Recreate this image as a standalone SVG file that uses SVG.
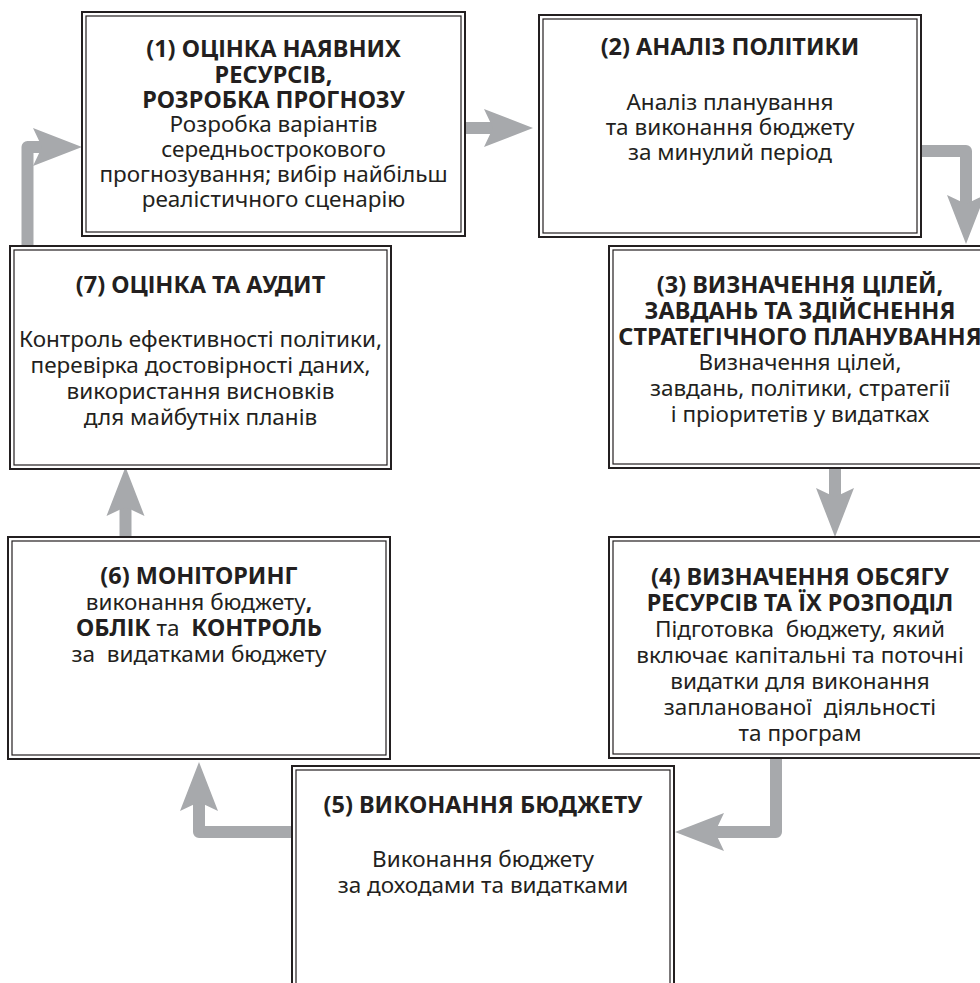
<svg xmlns="http://www.w3.org/2000/svg" width="980" height="983" viewBox="0 0 980 983">
<style>
.bo{fill:#fff;stroke:#231f20;stroke-width:2}
.bi{fill:none;stroke:#231f20;stroke-width:1.2}
text{font-family:"Noto Sans","Open Sans","DejaVu Sans",sans-serif;fill:#231f20;text-anchor:middle;white-space:pre}
.r{font-size:22.5px}
.b{font-size:23.5px;font-weight:bold}
.sh{fill:none;stroke:#a7a9ac;stroke-width:12;stroke-linejoin:round}
</style>
<defs>
<marker id="ah" markerUnits="userSpaceOnUse" markerWidth="60" markerHeight="50" viewBox="0 -25 60 50" refX="9" refY="0" orient="auto">
<path d="M0,-19 L49,0 L0,19 L9,0 Z" fill="#a7a9ac"/>
</marker>
</defs>
<g id="connectors">
<path class="sh" d="M27.5,250 V147 H42" marker-end="url(#ah)"/>
<path class="sh" d="M463,128 H493" marker-end="url(#ah)"/>
<path class="sh" d="M919,151 H966 V204" marker-end="url(#ah)"/>
<path class="sh" d="M835,466 V497" marker-end="url(#ah)"/>
<path class="sh" d="M776,756 V832 H715" marker-end="url(#ah)"/>
<path class="sh" d="M294,832 H199 V802" marker-end="url(#ah)"/>
<path class="sh" d="M125.5,540 V507" marker-end="url(#ah)"/>
</g>
<g id="n1">
<rect class="bo" x="82" y="12" width="383" height="224"/>
<rect class="bi" x="86" y="16" width="375" height="216"/>
<text class="b" x="273.5" y="57">(1) ОЦІНКА НАЯВНИХ</text>
<text class="b" x="273.5" y="83">РЕСУРСІВ,</text>
<text class="b" x="273.5" y="108">РОЗРОБКА ПРОГНОЗУ</text>
<text class="r" x="273.5" y="132">Розробка варіантів</text>
<text class="r" x="273.5" y="157">середньострокового</text>
<text class="r" x="273.5" y="182">прогнозування; вибір найбільш</text>
<text class="r" x="273.5" y="207">реалістичного сценарію</text>
</g>
<g id="n2">
<rect class="bo" x="539" y="15" width="382" height="222"/>
<rect class="bi" x="543" y="19" width="374" height="214"/>
<text class="b" x="730" y="55">(2) АНАЛІЗ ПОЛІТИКИ</text>
<text class="r" x="730" y="110">Аналіз планування</text>
<text class="r" x="730" y="135">та виконання бюджету</text>
<text class="r" x="730" y="160">за минулий період</text>
</g>
<g id="n3">
<rect class="bo" x="609" y="246" width="382" height="222"/>
<rect class="bi" x="613" y="250" width="374" height="214"/>
<text class="b" x="800" y="293">(3) ВИЗНАЧЕННЯ ЦІЛЕЙ,</text>
<text class="b" x="800" y="319">ЗАВДАНЬ ТА ЗДІЙСНЕННЯ</text>
<text class="b" x="800" y="345">СТРАТЕГІЧНОГО ПЛАНУВАННЯ</text>
<text class="r" x="800" y="370">Визначення цілей,</text>
<text class="r" x="800" y="396">завдань, політики, стратегії</text>
<text class="r" x="800" y="422">і пріоритетів у видатках</text>
</g>
<g id="n4">
<rect class="bo" x="609" y="537" width="382" height="221"/>
<rect class="bi" x="613" y="541" width="374" height="213"/>
<text class="b" x="800" y="585">(4) ВИЗНАЧЕННЯ ОБСЯГУ</text>
<text class="b" x="800" y="611">РЕСУРСІВ ТА ЇХ РОЗПОДІЛ</text>
<text class="r" x="800" y="637">Підготовка  бюджету, який</text>
<text class="r" x="800" y="663">включає капітальні та поточні</text>
<text class="r" x="800" y="689">видатки для виконання</text>
<text class="r" x="800" y="715">запланованої  діяльності</text>
<text class="r" x="800" y="741">та програм</text>
</g>
<g id="n5">
<rect class="bo" x="292" y="766" width="382" height="230"/>
<rect class="bi" x="296" y="770" width="374" height="222"/>
<text class="b" x="483" y="813">(5) ВИКОНАННЯ БЮДЖЕТУ</text>
<text class="r" x="483" y="867">Виконання бюджету</text>
<text class="r" x="483" y="893">за доходами та видатками</text>
</g>
<g id="n6">
<rect class="bo" x="8" y="537" width="382" height="222"/>
<rect class="bi" x="12" y="541" width="374" height="214"/>
<text class="b" x="199" y="584">(6) МОНІТОРИНГ</text>
<text class="r" x="199" y="610">виконання бюджету<tspan font-weight="bold">,</tspan></text>
<text class="r" x="199" y="636"><tspan class="b">ОБЛІК</tspan> та  <tspan class="b">КОНТРОЛЬ</tspan></text>
<text class="r" x="199" y="662">за  видатками бюджету</text>
</g>
<g id="n7">
<rect class="bo" x="10" y="246" width="381" height="223"/>
<rect class="bi" x="14" y="250" width="373" height="215"/>
<text class="b" x="200.5" y="293">(7) ОЦІНКА ТА АУДИТ</text>
<text class="r" x="200.5" y="347">Контроль ефективності політики,</text>
<text class="r" x="200.5" y="373">перевірка достовірності даних,</text>
<text class="r" x="200.5" y="399">використання висновків</text>
<text class="r" x="200.5" y="425">для майбутніх планів</text>
</g>
</svg>
